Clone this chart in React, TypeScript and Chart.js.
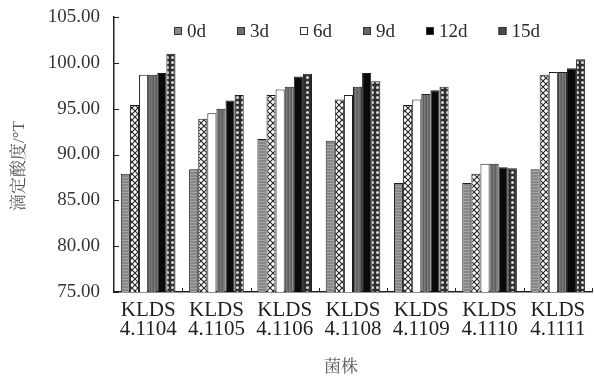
import React, { useEffect, useRef } from "react";
import { Chart, registerables } from "chart.js";

Chart.register(...registerables);

const strains = ["KLDS\n4.1104", "KLDS\n4.1105", "KLDS\n4.1106", "KLDS\n4.1108", "KLDS\n4.1109", "KLDS\n4.1110", "KLDS\n4.1111"];
const seriesNames = ["0d", "3d", "6d", "9d", "12d", "15d"];
const d0 = [87.9, 88.4, 91.7, 91.5, 86.9, 86.9, 88.4];
const d3 = [95.4, 93.9, 96.5, 96.0, 95.4, 87.9, 98.7];
const d6 = [98.7, 94.5, 97.1, 96.5, 96.0, 89.0, 99.0];
const d9 = [98.7, 95.0, 97.4, 97.4, 96.6, 89.0, 99.0];
const d12 = [98.9, 95.9, 98.5, 98.9, 97.0, 88.6, 99.4];
const d15 = [101.0, 96.5, 98.8, 98.0, 97.4, 88.5, 100.4];
const yMin = 75;
const yMax = 105;
const yStep = 5;
const yTitle = "滴定酸度/°T";
const xTitle = "菌株";

const SERIF = "'Liberation Serif', 'Noto Serif CJK SC', 'Noto Sans CJK SC', serif";

function makeTile(w: number, h: number, draw: (c: CanvasRenderingContext2D) => void) {
  const cv = document.createElement("canvas");
  cv.width = w;
  cv.height = h;
  const c = cv.getContext("2d")!;
  draw(c);
  return c.createPattern(cv, "repeat")!;
}

function buildPatterns() {
  const p0 = makeTile(4, 3, (c) => {
    c.fillStyle = "#878787";
    c.fillRect(0, 0, 4, 3);
    c.fillStyle = "#a4a4a4";
    c.fillRect(0, 0, 4, 1);
  });
  const p3 = makeTile(6, 6, (c) => {
    c.fillStyle = "#ffffff";
    c.fillRect(0, 0, 6, 6);
    c.strokeStyle = "#222";
    c.lineWidth = 1.1;
    c.beginPath();
    c.moveTo(0, 0);
    c.lineTo(6, 6);
    c.moveTo(6, 0);
    c.lineTo(0, 6);
    c.stroke();
  });
  const p6 = "#ffffff";
  const p9 = makeTile(3, 1, (c) => {
    c.fillStyle = "#5e5e5e";
    c.fillRect(0, 0, 1, 1);
    c.fillStyle = "#7a7a7a";
    c.fillRect(1, 0, 1, 1);
    c.fillStyle = "#6b6b6b";
    c.fillRect(2, 0, 1, 1);
  });
  const p12 = "#0a0a0a";
  const p15 = makeTile(5, 5, (c) => {
    c.fillStyle = "#2e2e2e";
    c.fillRect(0, 0, 5, 5);
    c.fillStyle = "#d8d8d8";
    c.beginPath();
    c.arc(2.5, 2.5, 1.5, 0, Math.PI * 2);
    c.fill();
  });
  return [p0, p3, p6, p9, p12, p15];
}

const legendColors = ["#8a8a8a", "#6f6f6f", "#ffffff", "#666666", "#000000", "#4a4a4a"];

const overlayPlugin = {
  id: "overlay",
  afterDraw(chart: any) {
    const ctx = chart.ctx as CanvasRenderingContext2D;
    const area = chart.chartArea;
    const y = chart.scales.y;
    ctx.save();
    // inward y ticks
    ctx.strokeStyle = "#222";
    ctx.lineWidth = 1;
    for (let v = yMin; v <= yMax; v += yStep) {
      const py = Math.round(y.getPixelForValue(v)) + 0.5;
      ctx.beginPath();
      ctx.moveTo(area.left, py);
      ctx.lineTo(area.left + 5, py);
      ctx.stroke();
    }
    // category boundary ticks
    const n = strains.length;
    const w = (area.right - area.left) / n;
    for (let i = 1; i <= n; i++) {
      const px = Math.round(area.left + i * w) + 0.5;
      ctx.beginPath();
      ctx.moveTo(px, area.bottom);
      ctx.lineTo(px, area.bottom - 4);
      ctx.stroke();
    }
    // legend
    ctx.font = `19px ${SERIF}`;
    ctx.textBaseline = "middle";
    const box = 8;
    const gap = 5;
    const spacing = 31;
    const widths = seriesNames.map((s) => box + gap + ctx.measureText(s).width);
    const total = widths.reduce((a, b) => a + b, 0) + spacing * (seriesNames.length - 1);
    let cx = (area.left + area.right) / 2 - total / 2 + 4;
    const ly = area.top + 14;
    seriesNames.forEach((s, i) => {
      ctx.fillStyle = legendColors[i];
      ctx.fillRect(cx, ly - box / 2, box, box);
      ctx.strokeStyle = "#333";
      ctx.lineWidth = 1;
      ctx.strokeRect(cx + 0.5, ly - box / 2 + 0.5, box - 1, box - 1);
      ctx.fillStyle = "#2a2a2a";
      ctx.textAlign = "left";
      ctx.fillText(s, cx + box + gap, ly + 1);
      cx += widths[i] + spacing;
    });
    // axis titles
    ctx.fillStyle = "#555";
    ctx.font = `17px ${SERIF}`;
    ctx.textAlign = "center";
    ctx.fillText(xTitle, (area.left + area.right) / 2 - 12, 368);
    ctx.translate(20, 166);
    ctx.rotate(-Math.PI / 2);
    ctx.fillText(yTitle, 0, 0);
    ctx.restore();
  },
};

export default function App() {
  const ref = useRef<HTMLCanvasElement | null>(null);
  useEffect(() => {
    if (!ref.current) return;
    const pats = buildPatterns();
    const series = [d0, d3, d6, d9, d12, d15];
    const chart = new Chart(ref.current, {
      type: "bar",
      data: {
        labels: strains.map((s) => s.split("\n")),
        datasets: series.map((d, i) => ({
          label: seriesNames[i],
          data: d,
          backgroundColor: pats[i] as any,
          borderColor: "#1e1e1e",
          borderWidth: 1,
          categoryPercentage: 0.8,
          barPercentage: 1.0,
        })),
      },
      options: {
        responsive: false,
        animation: false,
        devicePixelRatio: 1,
        layout: { padding: { top: 17, right: 3, left: 0, bottom: 0 } },
        plugins: { legend: { display: false }, tooltip: { enabled: false } },
        scales: {
          x: {
            grid: { display: false, drawTicks: false },
            border: { display: true, color: "#222", width: 1.5 },
            ticks: {
              color: "#1e1e1e",
              font: { family: SERIF, size: 21, lineHeight: 0.9 },
              padding: 9,
              maxRotation: 0,
              autoSkip: false,
            },
            afterFit: (s: any) => {
              s.height = 85;
              s.paddingLeft = 0;
              s.paddingRight = 0;
            },
          },
          y: {
            min: yMin,
            max: yMax,
            grid: { display: false, drawTicks: false },
            border: { display: true, color: "#222", width: 1.5 },
            ticks: {
              stepSize: yStep,
              color: "#333",
              font: { family: SERIF, size: 19 },
              padding: 14,
              callback: (v: any) => Number(v).toFixed(2),
            },
            afterFit: (s: any) => {
              s.width = 114;
              s.paddingTop = 0;
              s.paddingBottom = 0;
            },
          },
        },
      },
      plugins: [overlayPlugin],
    });
    return () => chart.destroy();
  }, []);
  return (
    <div style={{ position: "fixed", left: 0, top: 0, width: 595, height: 377, background: "#fff" }}>
      <canvas ref={ref} width={595} height={377} />
    </div>
  );
}
